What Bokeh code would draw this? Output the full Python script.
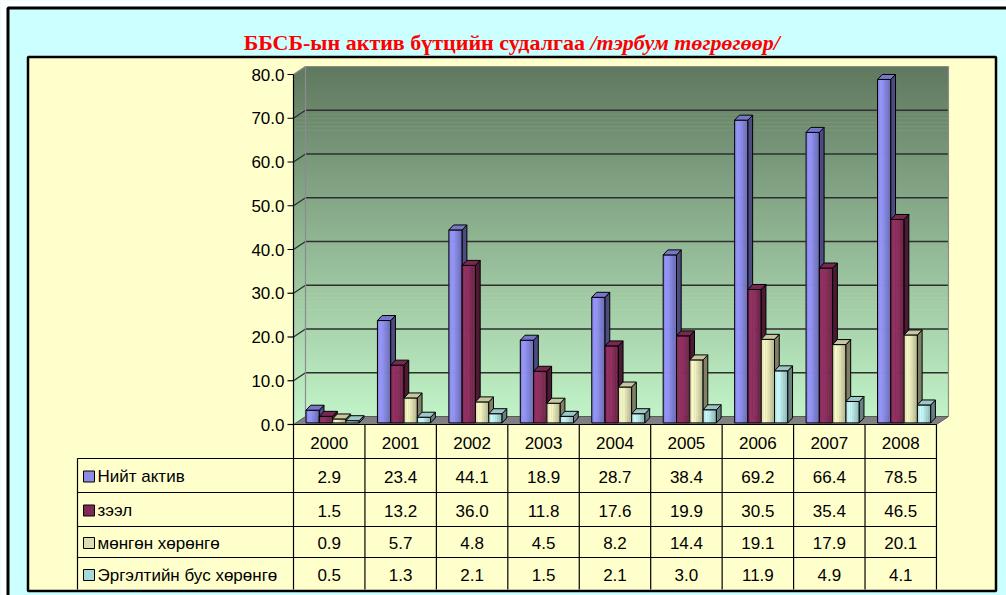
from bokeh.plotting import figure
from bokeh.models import Range1d, ColumnDataSource
from bokeh.core.properties import value
from bokeh.embed import file_html
from bokeh.resources import INLINE

# ---------------- data ----------------
years = ["2000", "2001", "2002", "2003", "2004", "2005", "2006", "2007", "2008"]
series_names = ["Нийт актив", "зээл", "мөнгөн хөрөнгө", "Эргэлтийн бус хөрөнгө"]
niit_aktiv = [2.9, 23.4, 44.1, 18.9, 28.7, 38.4, 69.2, 66.4, 78.5]
zeel = [1.5, 13.2, 36.0, 11.8, 17.6, 19.9, 30.5, 35.4, 46.5]
mongon_horongo = [0.9, 5.7, 4.8, 4.5, 8.2, 14.4, 19.1, 17.9, 20.1]
ergeltiin_bus = [0.5, 1.3, 2.1, 1.5, 2.1, 3.0, 11.9, 4.9, 4.1]
series_values = [niit_aktiv, zeel, mongon_horongo, ergeltiin_bus]
y_ticks = [0, 10, 20, 30, 40, 50, 60, 70, 80]
title_main = "ББСБ-ын актив бүтцийн судалгаа "
title_unit = "/тэрбум төгрөгөөр/"

# ---------------- style ----------------
base_rgb = [(153, 153, 255), (153, 51, 102), (255, 255, 204), (204, 255, 255)]
key_colors = ["#8C8CE6", "#7E2A55", "#DCDCB6", "#A6DADA"]
FONT = value("Liberation Sans")
SERIF = value("Liberation Serif")

W, H = 1006, 595
OFF = 0
AX = 293.0      # page x of front value axis
CW = 71.44      # category width in px
Z0 = 424.0      # page y of value 0 on the front axis
PP = 4.375      # px per value unit
DX, DY = 12.0, 8.0   # wall depth
RIGHT_END = AX + CW * len(years)


def X(px):
    return (px - AX) / CW


def Y(py):
    return (Z0 - py) / PP


def hexc(rgb, f=1.0):
    r, g, b = [max(0, min(255, int(round(c * f)))) for c in rgb]
    return "#%02x%02x%02x" % (r, g, b)


p = figure(width=W, height=H,
           x_range=Range1d(X(OFF), X(OFF + W)),
           y_range=Range1d(Y(OFF + H), Y(OFF)),
           min_border=0, toolbar_location=None, output_backend="svg",
           x_axis_location=None, y_axis_location=None,
           background_fill_color="#CCFFFF", border_fill_color="#CCFFFF",
           outline_line_color=None)
p.grid.grid_line_color = None

# white page edge + outer frame border (top & left)
p.quad(left=[X(0), X(0)], right=[X(W), X(6)], top=[Y(0), Y(0)], bottom=[Y(6), Y(H)],
       fill_color="white", line_color=None)
p.line([X(7.5), X(7.5), X(W)], [Y(H), Y(7.5), Y(7.5)],
       line_color="black", line_width=3)

# chart panel
p.quad(left=[X(27.5)], right=[X(995.5)], top=[Y(56.5)], bottom=[Y(590.5)],
       fill_color="#FFFFCC", line_color="black", line_width=2.5)

# title
p.text(x=[X(590)], y=[Y(42)], text=[title_main], text_font=SERIF,
       text_font_style="bold", text_font_size="22px", text_color="#FF0000",
       text_align="right", text_baseline="middle")
p.text(x=[X(590)], y=[Y(42)], text=[title_unit], text_font=SERIF,
       text_font_style="bold italic", text_font_size="22px", text_color="#FF0000",
       text_align="left", text_baseline="middle")

# ---------------- walls ----------------
top_v = y_ticks[-1]
wall_top_py = Z0 - top_v * PP - DY
wall_bot_py = Z0
N = 90
c_top = (95, 120, 95)
c_bot = (196, 246, 202)
ql, qr, qt, qb, qc = [], [], [], [], []
for k in range(N):
    y0 = wall_top_py + (wall_bot_py - wall_top_py) * k / N
    y1 = wall_top_py + (wall_bot_py - wall_top_py) * (k + 1) / N
    t = (k + 0.5) / N
    col = tuple(c_top[m] + (c_bot[m] - c_top[m]) * t for m in range(3))
    ql.append(X(AX)); qr.append(X(RIGHT_END + DX))
    qt.append(Y(y0)); qb.append(Y(y1 + 0.6)); qc.append(hexc(col))
p.quad(left=ql, right=qr, top=qt, bottom=qb, fill_color=qc, line_color=None)

# yellow corners outside the box
p.patch([X(AX - 0.5), X(AX + DX), X(AX - 0.5)],
        [Y(wall_top_py - 0.5), Y(wall_top_py - 0.5), Y(Z0 - top_v * PP)],
        fill_color="#FFFFCC", line_color=None)
p.patch([X(RIGHT_END), X(RIGHT_END + DX + 0.5), X(RIGHT_END + DX + 0.5)],
        [Y(Z0 + 0.5), Y(Z0 - DY), Y(Z0 + 0.5)],
        fill_color="#FFFFCC", line_color=None)

# floor
p.patch([X(AX), X(AX + DX), X(RIGHT_END + DX), X(RIGHT_END)],
        [0, Y(Z0 - DY), Y(Z0 - DY), 0],
        fill_color="#808080", line_color="#5A5A5A", line_width=1)

# gridlines
gx, gy = [], []
for v in y_ticks[1:-1]:
    gx.append([X(AX), X(AX + DX), X(RIGHT_END + DX)])
    gy.append([v, v + DY / PP, v + DY / PP])
p.multi_line(gx, gy, line_color="#2E2E2E", line_width=1.3)

# wall edges
p.multi_line([[X(AX), X(AX + DX), X(RIGHT_END + DX), X(RIGHT_END + DX)],
              [X(AX + DX), X(AX + DX)]],
             [[top_v, top_v + DY / PP, top_v + DY / PP, DY / PP],
              [top_v + DY / PP, DY / PP]],
             line_color="#8C8C8C", line_width=1.2)

# value axis
p.line([X(AX), X(AX)], [0, top_v], line_color="black", line_width=1.2)
p.multi_line([[X(AX - 6), X(AX)] for _ in y_ticks], [[v, v] for v in y_ticks],
             line_color="black", line_width=1.2)
p.text(x=[X(AX - 9)] * len(y_ticks), y=y_ticks, text=["%.1f" % v for v in y_ticks],
       text_font=FONT, text_font_size="17px", text_color="black",
       text_align="right", text_baseline="middle")

# ---------------- bars ----------------
BAR_OFF = 12.5
BAR_W = 13.3
BDX, BDY = 4.7, 5.0
BASE = 1.6
K = 6


def prof(t):
    if t < 0.3:
        return 0.86 + 0.14 * t / 0.3
    return 1.0 - 0.30 * (t - 0.3) / 0.7


xs, ys, fc, lc, fa, lw = [], [], [], [], [], []


def add(px, py, fill, line, alpha, width):
    xs.append(px); ys.append(py); fc.append(fill); lc.append(line)
    fa.append(alpha); lw.append(width)


b = BASE / PP
ddx = BDX / CW
ddy = BDY / PP
for i in range(len(years)):
    for j, vals in enumerate(series_values):
        v = vals[i]
        xl = i + (BAR_OFF + j * BAR_W) / CW
        xr = xl + BAR_W / CW
        top = v + b
        rgb = base_rgb[j]
        for k in range(K):
            x0 = xl + (xr - xl) * k / K
            x1 = xl + (xr - xl) * (k + 1) / K
            c = hexc(rgb, prof((k + 0.5) / K))
            add([x0, x1, x1, x0], [b, b, top, top], c, c, 1.0, 0.6)
        add([xl, xr, xr, xl], [b, b, top, top], "black", "black", 0.0, 1.0)
        add([xr, xr + ddx, xr + ddx, xr], [b, b + ddy, top + ddy, top],
            hexc(rgb, 0.5), "black", 1.0, 1.0)
        add([xl, xl + ddx, xr + ddx, xr], [top, top + ddy, top + ddy, top],
            hexc(rgb, 0.78), "black", 1.0, 1.0)

src = ColumnDataSource(dict(xs=xs, ys=ys, fc=fc, lc=lc, fa=fa, lw=lw))
p.patches("xs", "ys", source=src, fill_color="fc", line_color="lc",
          fill_alpha="fa", line_width="lw")

# ---------------- data table ----------------
HEAD_B = 458.0
ROW_B = [492.0, 526.0, 557.0, 590.0]
LBL_L = 77.0
TABLE_BOTTOM = 589.0
row_tops = [HEAD_B] + ROW_B[:-1]

tx, ty = [], []
tx.append([X(AX), X(RIGHT_END)]); ty.append([0, 0])
for yb in [HEAD_B] + ROW_B[:-1]:
    tx.append([X(LBL_L), X(RIGHT_END)]); ty.append([Y(yb), Y(yb)])
for i in range(len(years) + 1):
    tx.append([i, i]); ty.append([0, Y(TABLE_BOTTOM)])
tx.append([X(LBL_L), X(LBL_L)]); ty.append([Y(HEAD_B), Y(TABLE_BOTTOM)])
p.multi_line(tx, ty, line_color="black", line_width=1.2)

# header years
p.text(x=[i + 0.5 for i in range(len(years))], y=[Y((Z0 + HEAD_B) / 2 + 1)] * len(years),
       text=years, text_font=FONT, text_font_size="17px", text_color="black",
       text_align="center", text_baseline="middle")

cx, cy, ct = [], [], []
for j, vals in enumerate(series_values):
    ymid = Y((row_tops[j] + ROW_B[j]) / 2 + 1)
    for i, v in enumerate(vals):
        cx.append(i + 0.5); cy.append(ymid); ct.append("%.1f" % v)
p.text(x=cx, y=cy, text=ct, text_font=FONT, text_font_size="17px",
       text_color="black", text_align="center", text_baseline="middle")

# row labels with legend keys
KEY_L, KEY_S = 83.0, 11.0
kl, kr, kt, kb = [], [], [], []
for j in range(len(series_names)):
    ym = (row_tops[j] + ROW_B[j]) / 2
    kl.append(X(KEY_L)); kr.append(X(KEY_L + KEY_S))
    kt.append(Y(ym - KEY_S / 2 + 1)); kb.append(Y(ym + KEY_S / 2 + 1))
p.quad(left=kl, right=kr, top=kt, bottom=kb, fill_color=key_colors,
       line_color="black", line_width=1)
p.text(x=[X(97)] * len(series_names),
       y=[Y((row_tops[j] + ROW_B[j]) / 2 + 1) for j in range(len(series_names))],
       text=series_names, text_font=FONT, text_font_size="17px",
       text_color="black", text_align="left", text_baseline="middle")

open("out.html", "w").write(file_html(p, INLINE))
